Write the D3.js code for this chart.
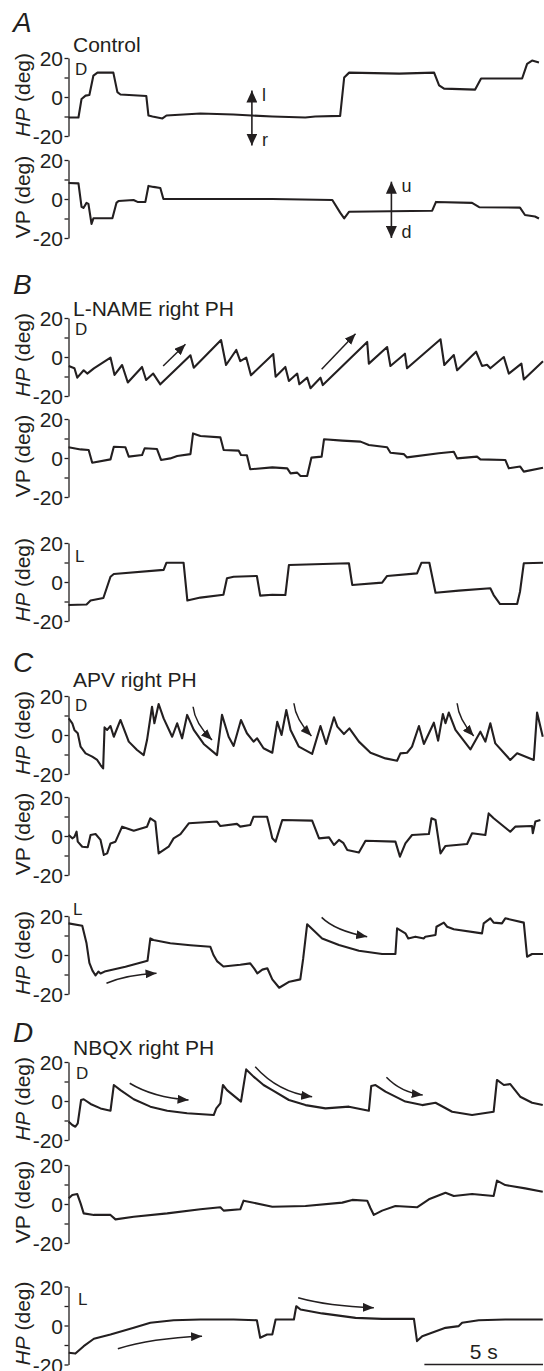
<!DOCTYPE html>
<html>
  <head>
    <title>Eye position traces</title>
    <style>
      body { margin: 0; background: #fff; }
      svg text { font-family: "Liberation Sans", Arial, sans-serif; fill: #231f20; }
    </style>
  </head>
  <body>
    <svg id="svg" width="544" height="1371"></svg>

    <script src="https://cdn.jsdelivr.net/npm/d3@7"></script>
    <script>
      // [time (s), position (deg)]
      const ctrlHP = [[0,-10.5],[0.42,-10.5],[0.55,-1],[0.72,0.7],[0.88,1],[1.05,11],[1.22,12.5],[1.89,12.5],[2.06,2.5],[2.19,1.3],[3.28,0.5],[3.37,-9.5],[3.54,-10],[3.96,-11],[4.13,-9.5],[5.56,-8.5],[6.95,-9],[8.59,-10],[9.98,-10.5],[10.4,-10],[11.45,-9.7],[11.62,10],[11.83,12.5],[13.94,12],[15.41,12.5],[15.62,6],[15.83,4.3],[17.14,3.8],[17.39,9.5],[19.12,9.5],[19.33,17],[19.54,18.7],[19.83,17.7]];
      const ctrlVP = [[0,8.2],[0.42,8],[0.55,-4],[0.63,-4.6],[0.76,-2],[0.84,-2.5],[0.97,-12.8],[1.05,-9.9],[1.85,-9.9],[2.02,-2],[2.11,-1],[2.74,-0.5],[2.91,-1.5],[3.24,-1.5],[3.37,6.7],[3.58,6.2],[3.87,5.6],[4.0,0],[5.56,0],[8.59,0],[11.12,-0.5],[11.45,-7],[11.62,-9.9],[11.83,-6.5],[15.33,-6],[15.49,-1.5],[17.01,-2],[17.31,-4.2],[19.03,-4.4],[19.24,-8.2],[19.66,-9],[19.83,-10]];

      const lnameHP = [[0.01,-4.6],[0.25,-5.8],[0.37,-10.6],[0.64,-6.8],[0.79,-8.5],[1.07,-5.8],[1.77,-0.3],[1.94,-9.2],[2.26,-4.1],[2.5,-13.1],[3.1,-5.1],[3.27,-11.8],[3.57,-8.5],[3.87,-14],[5.14,0.9],[5.28,-5.5],[6.43,8.7],[6.64,-4.1],[7.07,3.6],[7.24,-2.1],[7.49,-0.3],[7.69,-9.4],[8.63,1.5],[8.73,-10.1],[9.14,-5.1],[9.29,-12.3],[9.64,-8.5],[9.73,-14],[10.06,-10.6],[10.2,-16],[10.62,-10.6],[10.72,-14.4],[12.59,7.7],[12.66,-3.4],[13.43,5.1],[13.57,-4.6],[14.18,1.7],[14.27,-5.8],[15.68,9.1],[15.84,-4.1],[16.24,1],[16.38,-6.8],[17.18,2.7],[17.43,-4.6],[17.64,-4],[17.78,-5.8],[18.35,0],[18.56,-8.5],[19.09,-3.4],[19.19,-11.5],[20,-2.2]];
      const lnameVP = [[0,5.5],[0.51,4.4],[0.85,4.1],[1.0,-2.4],[1.77,-0.7],[1.91,5.8],[2.4,5.5],[2.54,0.7],[3.1,1.5],[3.21,5],[3.73,4.6],[3.9,-1],[4.29,-0.2],[4.58,1],[5.14,2],[5.25,12.6],[5.56,11.3],[6.4,10.6],[6.54,4.1],[7.17,3.8],[7.27,1.5],[7.52,1.4],[7.66,-5.8],[8.59,-4.8],[9.22,-5.3],[9.36,-7.9],[9.64,-7.5],[9.78,-9.2],[10.06,-9.2],[10.24,0.2],[10.67,0.7],[10.77,9.6],[11.54,8.9],[12.31,8.4],[12.66,6.7],[13.43,5.5],[13.57,2.7],[14.13,2],[14.27,0.3],[15.61,2.4],[16.24,3.2],[16.38,-0.2],[17.22,0.7],[17.36,-0.7],[18.41,-1],[18.56,-5.3],[19.04,-4.4],[19.19,-7],[20,-5]];
      const lnameHPL = [[0,-11.8],[0.76,-11.5],[0.93,-9.5],[1.47,-8.2],[1.77,2.7],[1.91,4.1],[4.01,6.2],[4.13,9.9],[4.85,9.9],[5.01,-9.5],[5.56,-8],[6.53,-6.5],[6.68,1.9],[6.96,2.7],[7.94,3.1],[8.08,-7],[8.59,-6.5],[9.14,-6.7],[9.29,8.7],[11.82,9.6],[11.96,-1.5],[13.22,-0.3],[13.43,3.1],[14.69,4.4],[14.88,9.9],[15.21,9.9],[15.47,-5.5],[16.45,-4.4],[17.78,-3.2],[17.92,-6.7],[18.19,-11.3],[18.91,-11.3],[19.03,-5],[19.19,9.6],[20,9.9]];

      const apvHP = [[0.01,8.5],[0.16,6],[0.25,2.6],[0.39,0.9],[0.51,-6],[0.72,-9.4],[1.0,-11.1],[1.21,-12.8],[1.35,-15.4],[1.46,-17.1],[1.52,3.9],[1.63,2.6],[1.77,4.6],[1.91,-0.9],[2.19,7.7],[2.54,-3.4],[2.89,-7.7],[3.17,-10.3],[3.31,-2.6],[3.52,14.5],[3.62,6],[3.8,15.9],[4.01,8.5],[4.37,-0.9],[4.58,6],[4.79,-1.7],[5.0,10.3],[5.28,2.6],[5.7,-4.6],[6.26,-10.3],[6.47,10.3],[6.75,-0.9],[6.96,-5.6],[7.27,7.7],[7.52,0.9],[7.8,-3.4],[7.95,-1.7],[8.22,-6.8],[8.59,-9.1],[8.8,6.8],[8.98,0],[9.18,12.8],[9.36,2.6],[9.71,-6],[10.27,-9.7],[10.62,4.6],[10.86,-4.6],[11.19,9.1],[11.33,4.3],[11.61,0.5],[11.84,3.4],[12.24,-3.4],[12.73,-9.1],[13.36,-12],[13.85,-13.2],[13.99,-9.4],[14.27,-9.1],[14.48,-6],[14.77,4.6],[14.98,-4.6],[15.4,6.3],[15.58,-2.9],[15.78,10.8],[15.89,6],[16.03,11.5],[16.31,2.6],[16.94,-7.4],[17.36,1.7],[17.57,-3.4],[17.78,6],[17.99,-4.3],[18.62,-12.8],[18.91,-9.4],[19.61,-12.8],[19.75,11.5],[19.99,-0.9]];
      const apvVP = [[0.01,0.5],[0.16,-1.2],[0.25,-0.5],[0.34,2.2],[0.39,-2.9],[0.58,-5.5],[0.81,-5.8],[0.93,0.5],[1.14,1],[1.35,-2],[1.49,-9.7],[1.63,-8.9],[1.77,-3.8],[1.98,-2.9],[2.26,4.8],[2.75,2.7],[3.31,4.8],[3.45,9.1],[3.66,7.4],[3.8,-8.9],[4.22,-5.5],[4.43,-1.2],[4.72,1],[5.07,6.5],[6.26,7.4],[6.4,5.1],[7.1,6.2],[7.24,4.8],[7.66,5.6],[7.8,9.9],[8.37,9.9],[8.51,3.1],[8.59,-1.2],[8.73,-2.9],[9.01,8.2],[10.27,7.9],[10.56,-1.2],[10.98,-0.7],[11.19,-4.6],[11.4,-2],[11.58,-3.5],[11.75,-7.2],[12.24,-8.5],[12.52,-2.4],[13.78,-2.9],[13.97,-10.6],[14.2,-3.8],[14.48,0.5],[15.19,1],[15.3,9.1],[15.47,8.2],[15.68,-8.9],[15.89,-5.1],[16.8,-4.1],[17.01,1.4],[17.57,0.5],[17.71,11.6],[17.92,9.1],[18.62,2.2],[18.83,4.8],[19.54,5.1],[19.57,1.4],[19.68,7.4],[19.89,8.2]];
      const apvHPL = [[0,16.2],[0.58,15],[0.76,6],[0.88,-4],[1.01,-8],[1.14,-10.5],[1.26,-8.5],[1.35,-9.5],[1.52,-8.5],[2.4,-6],[3.33,-3],[3.45,8.5],[3.58,7.7],[4.29,6],[5.14,5],[5.98,4.2],[6.11,0],[6.27,-3.3],[6.53,-5.9],[7.24,-5],[7.66,-4.3],[7.83,-7],[7.96,-9.4],[8.17,-7.5],[8.38,-6.8],[8.59,-12.5],[8.88,-16.8],[9.31,-13.7],[9.77,-12.5],[9.89,-2],[10.06,15.8],[10.69,8.5],[11.4,5.1],[12.24,2.2],[13.22,0.5],[13.78,0.5],[13.85,13.7],[14.2,11.1],[14.32,8.5],[14.62,9.4],[14.98,8.5],[15.04,9.4],[15.47,10.3],[15.51,14.5],[15.82,16.6],[15.96,14.5],[16.24,13.2],[17.43,11.1],[17.5,16.2],[17.78,18.8],[17.92,16.6],[18.27,16.2],[18.41,18.8],[19.19,16.6],[19.33,-0.9],[19.54,0.5],[20,0.5]];

      const nbqxHP = [[0.01,-10.6],[0.16,-12.3],[0.29,-13.2],[0.39,-11.5],[0.53,0.5],[0.64,0.9],[0.93,-1.5],[1.35,-3.8],[1.77,-5],[1.91,8.2],[2.19,5.6],[2.75,0.9],[3.45,-2.9],[4.16,-5],[5.0,-6.3],[6.12,-7.2],[6.23,-3.8],[6.4,-1.2],[6.51,8.2],[6.68,5.6],[7.27,-0.3],[7.49,16.2],[7.8,12.5],[8.22,8.2],[8.59,5.6],[9.29,0.5],[9.99,-2.1],[10.83,-3.8],[11.82,-2.9],[12.66,-5],[12.76,7.7],[12.94,8.2],[13.36,4.8],[14.2,-0.3],[14.91,-2.1],[15.47,-0.9],[16.17,-5.5],[17.01,-7.2],[17.92,-5.5],[18.06,10.8],[18.35,8.2],[18.62,8.7],[19.04,2.2],[19.54,-0.9],[19.99,-2.1]];
      const nbqxVP = [[0.01,2.9],[0.16,4.6],[0.37,5.1],[0.51,0.3],[0.64,-4.8],[1.07,-5.6],[1.77,-5.6],[1.98,-7.9],[2.75,-6.5],[4.16,-4.8],[5.56,-2.7],[6.4,-1.7],[6.54,-3.4],[7.24,-2.7],[7.38,1.7],[8.59,-1.4],[9.99,-1],[11.54,0.7],[11.96,2.1],[12.59,1.7],[12.73,-2.2],[12.87,-5.6],[13.22,-3.4],[13.78,-1],[14.69,-1.7],[15.19,2.4],[15.89,5.8],[16.24,4.1],[17.01,5.1],[17.92,4.1],[18.06,12],[18.41,9.7],[19.25,8],[19.99,6.3]];
      const nbqxHPL = [[0.01,-14],[0.29,-14.4],[0.64,-10.6],[1.07,-6.8],[1.77,-4.6],[2.75,-1.2],[3.45,1.4],[4.43,2.7],[5.56,3.1],[6.96,3.1],[7.94,2.7],[8.08,-6.3],[8.37,-4.6],[8.59,-4.6],[8.73,3.1],[9.5,3.1],[9.6,9.9],[9.78,8.2],[10.69,6.2],[12.1,3.9],[13.22,3.4],[14.56,3.4],[14.69,-8],[14.91,-5.5],[15.89,-1.2],[16.45,-0.3],[16.59,1.4],[17.29,2.7],[18.41,3.1],[19.99,3.1]];

      const ticks = [-20, -10, 0, 10, 20];
      const tickLabels = [-20, 0, 20];

      // direction arrows in panel A: [track, time, top deg, bottom deg, top label, bottom label]
      const dirArrows = [
        ['ctrlHP', 7.73, 3.3, -24.9, 'l', 'r'],
        ['ctrlVP', 13.61, 8.9, -20, 'u', 'd'],
      ];
      // slow-phase arrows: [track, t0, deg0, t1, deg1, shape]
      const slowArrows = [
        ['lnameHP', 3.99, -4.6, 4.93, 6.5, 'straight'],
        ['lnameHP', 10.67, -6.3, 12.1, 11.9, 'straight'],
        ['apvHP', 5.25, 14.5, 6.05, -2.6, 'steep'],
        ['apvHP', 9.5, 16.3, 10.24, -0.5, 'steep'],
        ['apvHP', 16.38, 16.3, 17.08, -0.5, 'steep'],
        ['apvHPL', 10.67, 19.3, 12.59, 9.4, 'soft'],
        ['apvHPL', 1.6, -14.5, 3.71, -9.4, 'flat'],
        ['nbqxHP', 2.58, 9.1, 5.06, 0.5, 'flat'],
        ['nbqxHP', 7.87, 17.6, 10.27, 2.2, 'flat'],
        ['nbqxHP', 13.4, 12.2, 14.93, 3.1, 'flat'],
        ['nbqxHPL', 2.08, -11.9, 5.63, -5.5, 'flat'],
        ['nbqxHPL', 9.68, 14.2, 12.87, 9.1, 'flat'],
      ];
      const scaleBar = [15, 20];
      const scaleBarLabel = '5 s';

      // layout
      const bends = { straight: [0.5, 0.5], steep: [0.1, 0.5], soft: [0.3, 0.7], flat: [0.4, 0.85] };
      const tracks = [
        { id: 'ctrlHP', data: ctrlHP, name: 'HP', cy: 97, tag: 'D', tagX: 75, tagY: -22 },
        { id: 'ctrlVP', data: ctrlVP, name: 'VP', cy: 199 },
        { id: 'lnameHP', data: lnameHP, name: 'HP', cy: 357, tag: 'D', tagX: 75, tagY: -22 },
        { id: 'lnameVP', data: lnameVP, name: 'VP', cy: 458 },
        { id: 'lnameHPL', data: lnameHPL, name: 'HP', cy: 582, tag: 'L', tagX: 75, tagY: -20 },
        { id: 'apvHP', data: apvHP, name: 'HP', cy: 735, tag: 'D', tagX: 75, tagY: -24 },
        { id: 'apvVP', data: apvVP, name: 'VP', cy: 836 },
        { id: 'apvHPL', data: apvHPL, name: 'HP', cy: 955, tag: 'L', tagX: 73, tagY: -40 },
        { id: 'nbqxHP', data: nbqxHP, name: 'HP', cy: 1101, tag: 'D', tagX: 76, tagY: -22.5 },
        { id: 'nbqxVP', data: nbqxVP, name: 'VP', cy: 1204 },
        { id: 'nbqxHPL', data: nbqxHPL, name: 'HP', cy: 1325.5, tag: 'L', tagX: 78, tagY: -21 },
      ];
      const panels = [
        { letter: 'A', title: 'Control', track: 'ctrlHP', letterDy: -26, titleDy: -6 },
        { letter: 'B', title: 'L-NAME right PH', track: 'lnameHP', letterDy: -24, titleDy: -2.5 },
        { letter: 'C', title: 'APV right PH', track: 'apvHP', letterDy: -24, titleDy: -9 },
        { letter: 'D', title: 'NBQX right PH', track: 'nbqxHP', letterDy: -20, titleDy: -7 },
      ];

      const ink = '#231f20';
      const half = 39;
      const big = 21;
      const small = 17;
      const svg = d3.select('#svg');
      const xScale = d3.scaleLinear().domain([0, 20]).range([68.5, 543]);
      const yScales = {};
      tracks.forEach((t) => {
        yScales[t.id] = d3.scaleLinear().domain([-20, 20]).range([t.cy + half, t.cy - half]);
      });

      const defs = svg.append('defs');
      const addHead = (id, w, h) => {
        defs.append('marker')
          .attr('id', id)
          .attr('viewBox', `0 0 ${w} ${h}`)
          .attr('refX', w)
          .attr('refY', h / 2)
          .attr('markerWidth', w)
          .attr('markerHeight', h)
          .attr('markerUnits', 'userSpaceOnUse')
          .attr('orient', 'auto-start-reverse')
          .append('path')
          .attr('d', `M0,0L${w},${h / 2}L0,${h}Z`)
          .attr('fill', ink);
      };
      addHead('head', 11, 9);
      addHead('bighead', 12, 11);

      tracks.forEach((t) => {
        const y = yScales[t.id];
        const axis = d3.axisLeft(y)
          .tickValues(ticks)
          .tickSize(4)
          .tickSizeOuter(0)
          .tickPadding(1.5)
          .tickFormat((d) => (tickLabels.includes(d) ? String(d) : ''));
        const g = svg.append('g')
          .attr('transform', `translate(${xScale(0)},0)`)
          .call(axis)
          .attr('font-size', big)
          .attr('font-family', '"Liberation Sans", Arial, sans-serif');
        g.selectAll('path, line').attr('stroke', ink).attr('stroke-width', 1.3);
        g.selectAll('text').attr('fill', ink).attr('dy', '0.36em');

        const lab = svg.append('text')
          .attr('transform', `translate(30,${t.cy - 2}) rotate(-90)`)
          .attr('text-anchor', 'middle')
          .attr('font-size', big);
        lab.append('tspan').attr('font-style', t.name === 'HP' ? 'italic' : 'normal').text(t.name);
        lab.append('tspan').text(' (deg)');

        if (t.tag) {
          svg.append('text')
            .attr('x', t.tagX)
            .attr('y', t.cy + t.tagY)
            .attr('font-size', small)
            .text(t.tag);
        }

        const linegen = d3.line()
          .x((d) => xScale(d[0]))
          .y((d) => y(d[1]))
          .curve(d3.curveLinear);
        svg.append('path')
          .attr('d', linegen(t.data))
          .attr('fill', 'none')
          .attr('stroke', ink)
          .attr('stroke-width', 2.1)
          .attr('stroke-linejoin', 'round');
      });

      panels.forEach((p) => {
        const top = yScales[p.track](20);
        svg.append('text')
          .attr('x', 13)
          .attr('y', top + p.letterDy)
          .attr('font-size', 28)
          .attr('font-style', 'italic')
          .text(p.letter);
        svg.append('text')
          .attr('x', 73)
          .attr('y', top + p.titleDy)
          .attr('font-size', big)
          .text(p.title);
      });

      dirArrows.forEach(([id, t, d0, d1, up, down]) => {
        const y = yScales[id];
        const x = xScale(t);
        svg.append('line')
          .attr('x1', x).attr('x2', x)
          .attr('y1', y(d0)).attr('y2', y(d1))
          .attr('stroke', ink)
          .attr('stroke-width', 1.6)
          .attr('marker-start', 'url(#bighead)')
          .attr('marker-end', 'url(#bighead)');
        svg.append('text').attr('x', x + 10).attr('y', y(d0) + 10).attr('font-size', small + 1).text(up);
        svg.append('text').attr('x', x + 10).attr('y', y(d1)).attr('font-size', small + 1).text(down);
      });

      slowArrows.forEach(([id, t0, d0, t1, d1, shape]) => {
        const y = yScales[id];
        const x0 = xScale(t0), y0 = y(d0), x1 = xScale(t1), y1 = y(d1);
        const [a, b] = bends[shape];
        const p = d3.path();
        p.moveTo(x0, y0);
        p.quadraticCurveTo(x0 + a * (x1 - x0), y0 + b * (y1 - y0), x1, y1);
        svg.append('path')
          .attr('d', p.toString())
          .attr('fill', 'none')
          .attr('stroke', ink)
          .attr('stroke-width', 1.5)
          .attr('marker-end', 'url(#head)');
      });

      const barY = yScales.nbqxHPL(-20);
      svg.append('line')
        .attr('x1', xScale(scaleBar[0]))
        .attr('x2', xScale(scaleBar[1]))
        .attr('y1', barY)
        .attr('y2', barY)
        .attr('stroke', ink)
        .attr('stroke-width', 1.5);
      svg.append('text')
        .attr('x', (xScale(scaleBar[0]) + xScale(scaleBar[1])) / 2)
        .attr('y', barY - 6)
        .attr('text-anchor', 'middle')
        .attr('font-size', big)
        .text(scaleBarLabel);
    </script>
  </body>
</html>
